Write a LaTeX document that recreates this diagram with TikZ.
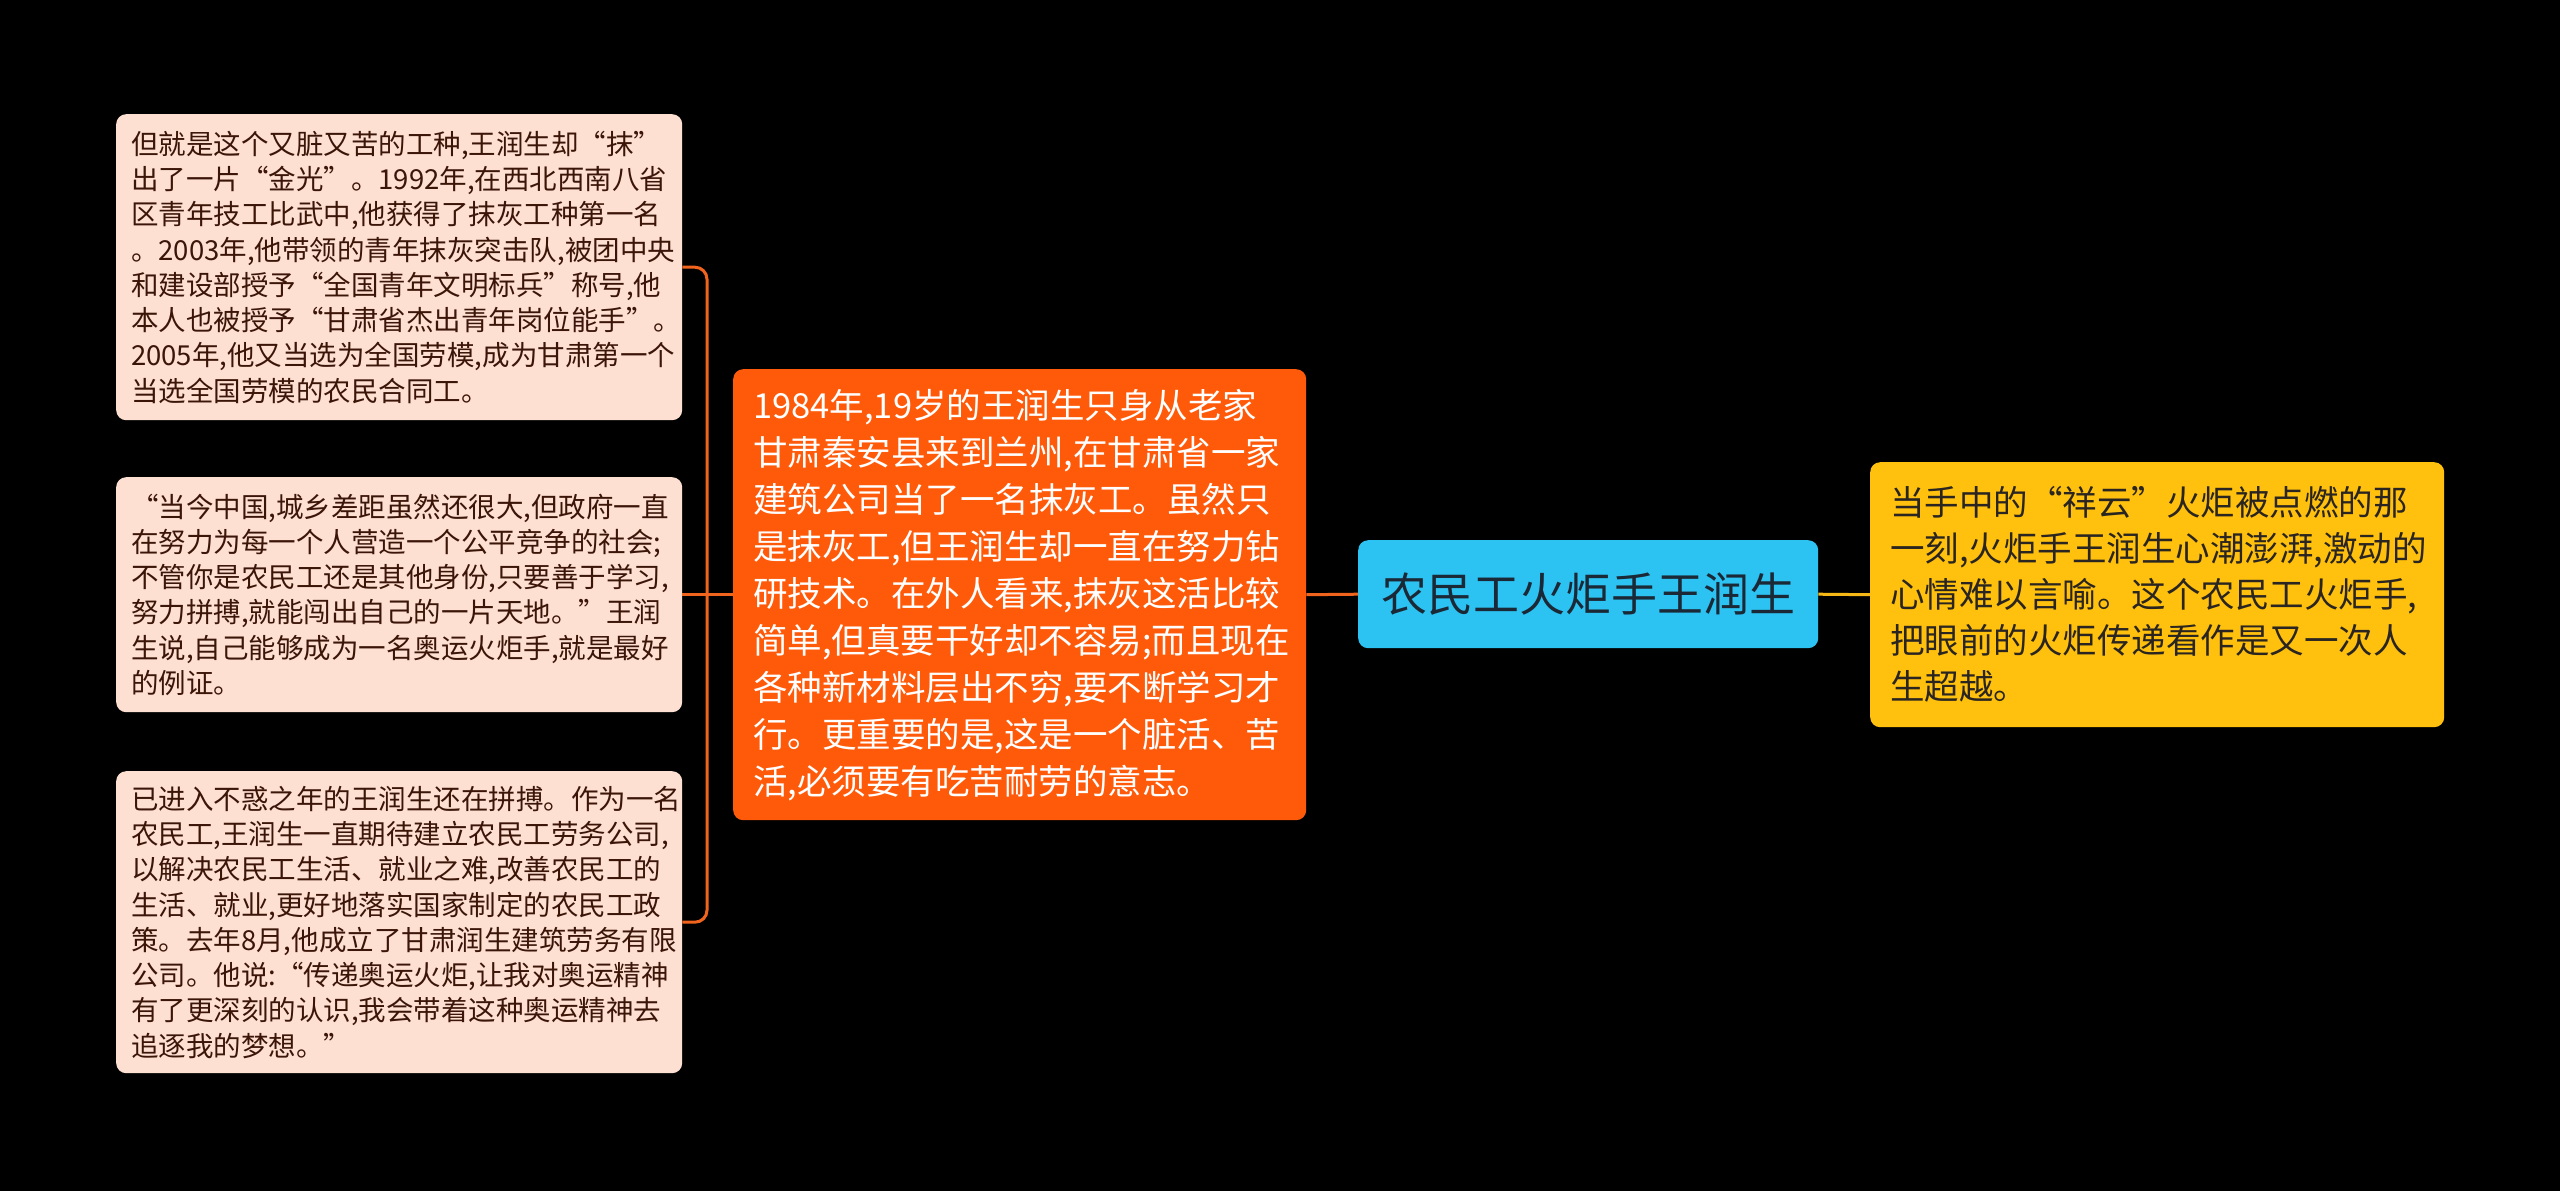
\documentclass[tikz,border=0pt]{standalone}
\usepackage{fontspec}
\setmainfont{Noto Sans CJK SC}
\definecolor{leaffill}{HTML}{FDE0D2}
\definecolor{leaftext}{HTML}{3B1508}
\definecolor{orangefill}{HTML}{FF5A0A}
\definecolor{lineorange}{HTML}{F0641E}
\definecolor{bluefill}{HTML}{2CC3F2}
\definecolor{bluetext}{HTML}{1B2836}
\definecolor{yellowfill}{HTML}{FFC10E}
\definecolor{yellowtext}{HTML}{2A2520}
\definecolor{lineyellow}{HTML}{F5B816}
\begin{document}
\begin{tikzpicture}[x=1pt,y=-1pt,
  box/.style={rounded corners=10pt, inner ysep=0pt, align=left, anchor=north west},
  leaf/.style={box, fill=leaffill, text=leaftext, font=\fontsize{27.5}{35.3}\selectfont,
    text width=536pt, inner xsep=15pt, minimum height=#1},
  mainbox/.style={box, fill=orangefill, text=white, font=\fontsize{34.5}{47}\selectfont,
    text width=533pt, inner xsep=20pt, minimum height=#1},
  rightbox/.style={box, fill=yellowfill, text=yellowtext, font=\fontsize{34.5}{46}\selectfont,
    text width=534pt, inner xsep=20pt, minimum height=#1},
  centerbox/.style={rounded corners=10pt, fill=bluefill, text=bluetext, font=\fontsize{46}{55}\selectfont,
    minimum width=460pt, minimum height=108pt, inner sep=0pt, anchor=north west},
  conn/.style={draw=lineorange, line width=3pt},
  yconn/.style={draw=lineyellow, line width=3pt}
]
\fill[black] (0,0) rectangle (2560,1191);

\node[leaf=306pt] (a) at (116,114) {但就是这个又脏又苦的工种,王润生却“抹”\\
出了一片“金光”。1992年,在西北西南八省\\
区青年技工比武中,他获得了抹灰工种第一名\\
。2003年,他带领的青年抹灰突击队,被团中央\\
和建设部授予“全国青年文明标兵”称号,他\\
本人也被授予“甘肃省杰出青年岗位能手”。\\
2005年,他又当选为全国劳模,成为甘肃第一个\\
当选全国劳模的农民合同工。};

\node[leaf=235pt] (b) at (116,477) {“当今中国,城乡差距虽然还很大,但政府一直\\
在努力为每一个人营造一个公平竞争的社会;\\
不管你是农民工还是其他身份,只要善于学习,\\
努力拼搏,就能闯出自己的一片天地。”王润\\
生说,自己能够成为一名奥运火炬手,就是最好\\
的例证。};

\node[leaf=302pt] (c) at (116,771) {已进入不惑之年的王润生还在拼搏。作为一名\\
农民工,王润生一直期待建立农民工劳务公司,\\
以解决农民工生活、就业之难,改善农民工的\\
生活、就业,更好地落实国家制定的农民工政\\
策。去年8月,他成立了甘肃润生建筑劳务有限\\
公司。他说:“传递奥运火炬,让我对奥运精神\\
有了更深刻的认识,我会带着这种奥运精神去\\
追逐我的梦想。”};

\node[mainbox=451pt] (m) at (733,369) {1984年,19岁的王润生只身从老家\\
甘肃秦安县来到兰州,在甘肃省一家\\
建筑公司当了一名抹灰工。虽然只\\
是抹灰工,但王润生却一直在努力钻\\
研技术。在外人看来,抹灰这活比较\\
简单,但真要干好却不容易;而且现在\\
各种新材料层出不穷,要不断学习才\\
行。更重要的是,这是一个脏活、苦\\
活,必须要有吃苦耐劳的意志。};

\node[centerbox] (ctr) at (1358,540) {农民工火炬手王润生};

\node[rightbox=265pt] (y) at (1870,462) {当手中的“祥云”火炬被点燃的那\\
一刻,火炬手王润生心潮澎湃,激动的\\
心情难以言喻。这个农民工火炬手,\\
把眼前的火炬传递看作是又一次人\\
生超越。};

\coordinate (jn) at (707,594.5);
\draw[conn, rounded corners=12pt] (a.east) -| (jn) |- (c.east);
\draw[conn] (b.east) -- (m.west);
\draw[conn] (m.east) -- (ctr.west);
\draw[yconn] (ctr.east) -- (y.west);
\end{tikzpicture}
\end{document}
